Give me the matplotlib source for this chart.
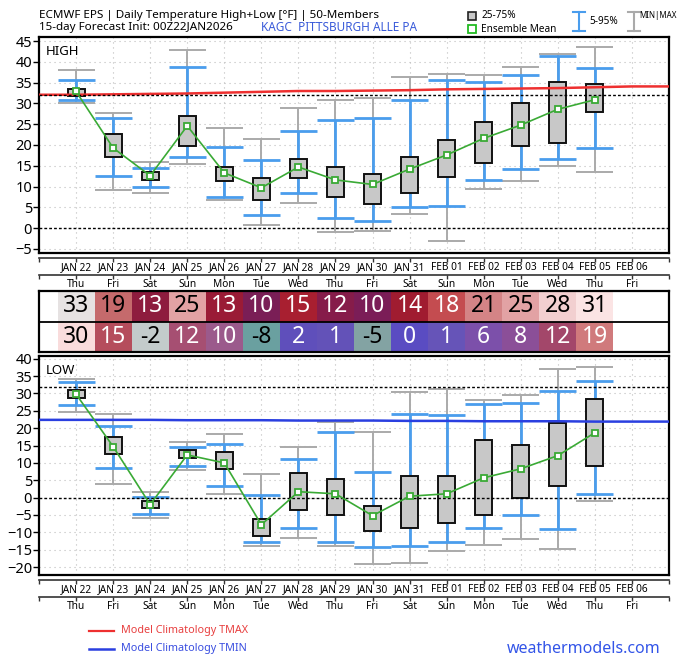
import numpy as np
import matplotlib
matplotlib.use("Agg")
import matplotlib.pyplot as plt
from matplotlib import font_manager

# ---------------- data ----------------
dates = ["JAN 22", "JAN 23", "JAN 24", "JAN 25", "JAN 26", "JAN 27", "JAN 28", "JAN 29",
         "JAN 30", "JAN 31", "FEB 01", "FEB 02", "FEB 03", "FEB 04", "FEB 05", "FEB 06"]
weekdays = ["Thu", "Fri", "Sat", "Sun", "Mon", "Tue", "Wed", "Thu",
            "Fri", "Sat", "Sun", "Mon", "Tue", "Wed", "Thu", "Fri"]

high_min  = [30.1, 9.1, 8.4, 15.5, 6.7, 0.7, 6.0, -0.9, -0.8, 3.5, -3.2, 9.5, 11.3, 15.0, 13.5]
high_p05  = [30.8, 12.6, 9.8, 17.0, 7.6, 3.1, 8.5, 2.5, 1.8, 5.0, 5.2, 11.6, 14.2, 16.7, 19.2]
high_p25  = [31.8, 17.0, 11.6, 19.7, 11.3, 6.7, 12.0, 7.6, 5.8, 8.5, 12.2, 15.7, 19.7, 20.6, 27.9]
high_mean = [32.9, 19.3, 12.6, 24.6, 13.3, 9.7, 14.7, 11.6, 10.5, 14.2, 17.6, 21.6, 24.8, 28.6, 30.9]
high_p75  = [33.5, 22.6, 13.5, 27.1, 14.6, 12.1, 16.7, 14.6, 13.0, 17.1, 21.1, 25.6, 30.0, 35.1, 34.7]
high_p95  = [35.6, 26.4, 14.5, 38.7, 19.6, 16.3, 23.3, 25.9, 26.4, 30.8, 35.6, 35.1, 36.9, 41.4, 38.6]
high_max  = [38.1, 27.7, 15.9, 42.9, 24.0, 21.4, 28.8, 30.8, 31.4, 36.3, 37.1, 36.8, 38.7, 41.9, 43.7]

low_min  = [24.8, 3.8, -5.8, 8.0, 1.1, -13.9, -11.7, -13.9, -19.0, -18.8, -15.3, -13.8, -11.8, -14.9, -0.9]
low_p05  = [26.6, 8.5, -4.7, 9.1, 3.4, -12.8, -8.8, -12.8, -14.1, -13.9, -12.7, -8.8, -5.1, -9.0, 1.1]
low_p25  = [28.6, 12.5, -3.0, 11.3, 8.2, -11.0, -3.7, -5.0, -9.7, -8.7, -7.3, -4.9, 0.0, 3.4, 9.2]
low_mean = [29.8, 14.7, -2.0, 12.3, 10.0, -7.8, 1.7, 1.1, -5.2, 0.4, 1.1, 5.7, 8.3, 12.1, 18.7]
low_p75  = [31.0, 17.4, -1.1, 13.6, 13.0, -6.3, 7.0, 5.3, -2.3, 6.1, 6.1, 16.7, 15.2, 21.6, 28.3]
low_p95  = [33.3, 20.7, 0.3, 14.7, 15.4, 0.8, 11.1, 19.0, 7.4, 24.0, 23.7, 27.1, 27.2, 30.6, 33.5]
low_max  = [34.2, 24.0, 1.5, 16.0, 18.4, 6.7, 14.5, 21.9, 18.8, 30.5, 31.4, 28.2, 29.7, 37.1, 37.5]

clim_tmax = [32.1, 32.2, 32.3, 32.4, 32.6, 32.8, 33.0, 33.0, 33.1, 33.2, 33.4, 33.5, 33.6, 33.7, 33.9, 34.1]
clim_tmin = [22.4, 22.4, 22.4, 22.3, 22.3, 22.3, 22.2, 22.2, 22.2, 22.1, 22.1, 22.0, 22.0, 22.0, 21.9, 21.9]

table_high = [33, 19, 13, 25, 13, 10, 15, 12, 10, 14, 18, 21, 25, 28, 31]
table_low  = [30, 15, -2, 12, 10, -8, 2, 1, -5, 0, 1, 6, 8, 12, 19]
table_high_colors = ["#e6e2e2", "#c56a6c", "#8e1c3e", "#e2a2a4", "#9a1b36", "#7a1e56", "#a81f30",
                     "#861c4a", "#7b1d57", "#a01c30", "#c44c50", "#d48486", "#e2a2a4", "#f2cfd0", "#fbe4e4"]
table_low_colors = ["#f9dcdc", "#b54d5c", "#c3cbcb", "#a64f72", "#9b5a8c", "#6aa0a0", "#5f4fbb",
                    "#6352b8", "#83a3a3", "#5a4cc2", "#6654b8", "#7c50aa", "#8b4f98", "#a3476a", "#d07a7c"]
table_high_text = ["k", "k", "w", "k", "w", "w", "w", "w", "w", "w", "w", "k", "k", "k", "k"]
table_low_text = ["k", "w", "k", "w", "w", "k", "w", "w", "k", "w", "w", "w", "w", "w", "w"]

# ---------------- fonts ----------------
avail = {f.name for f in font_manager.fontManager.ttflist}
FONT = "Noto Sans" if "Noto Sans" in avail else "DejaVu Sans"
plt.rcParams["font.family"] = [FONT, "DejaVu Sans"]

W, H = 680, 666
fig = plt.figure(figsize=(W / 100, H / 100), dpi=100)


def pax(x0, y0, x1, y1, **kw):
    return fig.add_axes([x0 / W, 1 - y1 / H, (x1 - x0) / W, (y1 - y0) / H], **kw)


n = len(high_mean)
xd = np.arange(len(dates))
xi = np.arange(n)
XL = (-1, 16)

BLUE = "#4a9ded"
GREY = "#aaaaaa"
GREEN = "#3aaa35"


def panel(ax, vmin, p05, p25, mean, p75, p95, vmax, clim, ccolor, ylim, yticks, label):
    ax.set_xlim(*XL)
    ax.set_ylim(*ylim)
    ax.set_xticks(xd)
    ax.set_yticks(yticks)
    ax.grid(True, color="#bdbdbd", linestyle=(0, (1, 3.5)), lw=0.8)
    ax.set_axisbelow(True)
    ax.tick_params(axis="x", length=0, labelbottom=False)
    ax.tick_params(axis="y", length=4, width=1, labelsize=10.5, pad=1)
    for s in ax.spines.values():
        s.set_linewidth(1.6)
    # min/max
    ax.vlines(xi, vmin, vmax, color=GREY, lw=1.4, zorder=2)
    ax.hlines(vmin, xi - 0.5, xi + 0.5, color=GREY, lw=1.4, zorder=2)
    ax.hlines(vmax, xi - 0.5, xi + 0.5, color=GREY, lw=1.4, zorder=2)
    # 5-95
    ax.vlines(xi, p05, p95, color=BLUE, lw=2.0, zorder=3)
    ax.hlines(p05, xi - 0.5, xi + 0.5, color=BLUE, lw=2.0, zorder=3)
    ax.hlines(p95, xi - 0.5, xi + 0.5, color=BLUE, lw=2.0, zorder=3)
    # boxes
    ax.bar(xi, np.array(p75) - np.array(p25), bottom=p25, width=0.46,
           color="#c8c8c8", edgecolor="#111111", lw=1.4, zorder=4)
    # climatology
    cx = np.concatenate([[XL[0]], xd, [XL[1]]])
    cy = np.concatenate([[clim[0]], clim, [clim[-1]]])
    ax.plot(cx, cy, color=ccolor, lw=1.8, zorder=5)
    ax.axhline(32, color="k", lw=1.0, ls=(0, (2, 1.5)), zorder=5)
    ax.axhline(0, color="k", lw=1.0, ls=(0, (2, 1.5)), zorder=5)
    # mean
    ax.plot(xi, mean, color=GREEN, lw=1.2, marker="s", ms=5, mfc="white",
            mec=GREEN, mew=1.3, zorder=6)
    ax.text(0.01, 0.965, label, transform=ax.transAxes, ha="left", va="top",
            fontsize=9.5, zorder=7)


def date_rows(y0):
    a1 = pax(39, y0, 669, y0 + 17)
    a2 = pax(39, y0 + 17, 669, y0 + 34)
    for a, labels in ((a1, dates), (a2, weekdays)):
        a.set_xlim(*XL)
        a.set_ylim(0, 1)
        a.patch.set_alpha(0)
        for k, s in a.spines.items():
            s.set_visible(k == "top")
            s.set_linewidth(1.2)
            s.set_color("#333333")
        a.set_yticks([])
        a.set_xticks(np.arange(XL[0], XL[1] + 1))
        a.tick_params(axis="x", top=True, bottom=False, direction="in", length=3,
                      width=1, color="#333333", labelbottom=False, labeltop=False)
        for i, lab in enumerate(labels):
            a.text(i, 0.42, lab, ha="center", va="center", fontsize=7.3)


# HIGH panel
axh = pax(39, 37, 669, 253)
panel(axh, high_min, high_p05, high_p25, high_mean, high_p75, high_p95, high_max,
      clim_tmax, "#ee3030", (-6, 46), np.arange(-5, 46, 5), "HIGH")
date_rows(258)

# table
axt = pax(39, 291, 669, 352)
axt.set_xlim(*XL)
axt.set_ylim(0, 2)
axt.set_xticks([])
axt.set_yticks([])
axt.bar(xi, 1, bottom=1, width=1.0, color=table_high_colors, lw=0)
axt.bar(xi, 1, bottom=0, width=1.0, color=table_low_colors, lw=0)
axt.axhline(1, color="k", lw=1.3)
for s in axt.spines.values():
    s.set_linewidth(1.6)
for i in range(n):
    axt.text(i, 1.5, str(table_high[i]), ha="center", va="center", fontsize=16.5,
             color="black" if table_high_text[i] == "k" else "white")
    axt.text(i, 0.5, str(table_low[i]), ha="center", va="center", fontsize=16.5,
             color="black" if table_low_text[i] == "k" else "white")

# LOW panel
axl = pax(39, 356, 669, 575)
panel(axl, low_min, low_p05, low_p25, low_mean, low_p75, low_p95, low_max,
      clim_tmin, "#2a3fe0", (-22.3, 40.8), np.arange(-20, 41, 5), "LOW")
date_rows(580)

# overlay for header / legends
ov = fig.add_axes([0, 0, 1, 1])
ov.set_xlim(0, W)
ov.set_ylim(H, 0)
ov.axis("off")
ov.patch.set_alpha(0)

ov.text(39, 15.5, "ECMWF EPS | Daily Temperature High+Low [°F] | 50-Members",
        fontsize=8.4, va="center", ha="left")
ov.text(39, 27.5, "15-day Forecast Init: 00Z22JAN2026", fontsize=8.4, va="center", ha="left")
ov.text(261, 27.5, "KAGC  PITTSBURGH ALLE PA", fontsize=8.5, va="center", ha="left",
        color="#3a5bd9")

ov.plot([472], [16], marker="s", ms=6, mfc="#c8c8c8", mec="#222222", mew=1.2)
ov.text(481, 16, "25-75%", fontsize=7.2, va="center")
ov.plot([472], [29], marker="s", ms=5.5, mfc="white", mec="#22bb22", mew=1.3)
ov.text(481, 29, "Ensemble Mean", fontsize=7.2, va="center")
ov.plot([579, 579], [12, 31], color=BLUE, lw=1.5)
ov.plot([573, 585], [12, 12], color=BLUE, lw=1.5)
ov.plot([573, 585], [31, 31], color=BLUE, lw=1.5)
ov.text(589, 22, "5-95%", fontsize=7.2, va="center")
ov.plot([634, 634], [12, 31], color=GREY, lw=1.5)
ov.plot([628, 640], [12, 12], color=GREY, lw=1.5)
ov.plot([628, 640], [31, 31], color=GREY, lw=1.5)
ov.text(639, 16, "MIN|MAX", fontsize=5.8, va="center")

ov.plot([89, 114], [631, 631], color="#ee3030", lw=1.6)
ov.text(121, 631, "Model Climatology TMAX", fontsize=7.8, va="center", color="#e84040")
ov.plot([89, 114], [649, 649], color="#2a3fe0", lw=1.8)
ov.text(121, 649, "Model Climatology TMIN", fontsize=7.8, va="center", color="#3a4ee0")
ov.text(661, 649, "weathermodels.com", fontsize=11.5, va="center", ha="right",
        color="#3355e8")

fig.savefig("out.png", dpi=100)
